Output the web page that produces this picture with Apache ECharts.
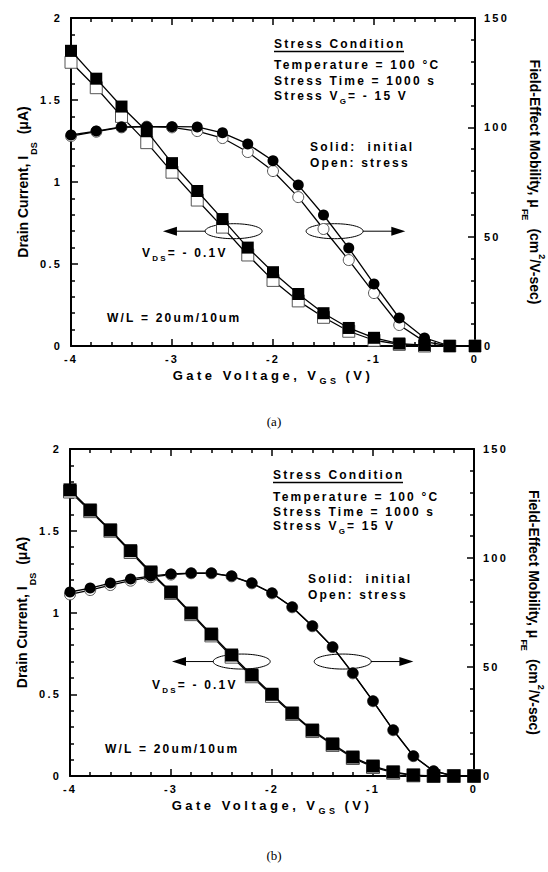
<!DOCTYPE html>
<html>
<head>
<meta charset="utf-8">
<script src="https://cdn.jsdelivr.net/npm/echarts/dist/echarts.min.js"></script>
<style>
  html, body { margin: 0; padding: 0; background: #fff; }
  #main { width: 548px; height: 872px; }
  /* wide-spaced lettering like the original figure */
  #main text[style*="ls2"] { letter-spacing: 2.2px; }
  #main text[style*="ls3"] { letter-spacing: 3.5px; }
</style>
</head>
<body>
<div id="main"></div>
<script>
// (a) stress VG = -15 V, points every 0.25 V
var vgsA = [-4, -3.75, -3.5, -3.25, -3, -2.75, -2.5, -2.25, -2, -1.75, -1.5, -1.25, -1, -0.75, -0.5, -0.25, 0];
var idInitA = [1.80, 1.63, 1.46, 1.31, 1.115, 0.945, 0.774, 0.60, 0.45, 0.317, 0.20, 0.11, 0.05, 0.015, 0.005, 0, 0];
var idStressA = [1.73, 1.575, 1.40, 1.24, 1.06, 0.89, 0.725, 0.555, 0.40, 0.275, 0.175, 0.09, 0.035, 0.01, 0, 0, 0];
var muInitA = [96.5, 98.3, 100.2, 100.3, 100.3, 100.2, 97.5, 92.4, 84.7, 73.6, 59.9, 44.8, 28.4, 12.8, 3.7, 0, 0];
var muStressA = [96, 98, 100, 100.3, 100, 98.3, 95.1, 88.7, 80, 68.1, 53.5, 39.3, 24.2, 9.6, 2, 0, 0];

// (b) stress VG = 15 V, points every 0.2 V
var vgsB = [-4, -3.8, -3.6, -3.4, -3.2, -3, -2.8, -2.6, -2.4, -2.2, -2, -1.8, -1.6, -1.4, -1.2, -1, -0.8, -0.6, -0.4, -0.2, 0];
var idInitB = [1.75, 1.627, 1.505, 1.378, 1.248, 1.125, 0.997, 0.868, 0.74, 0.618, 0.50, 0.385, 0.281, 0.196, 0.116, 0.061, 0.025, 0.005, 0, 0, 0];
var idStressB = [1.74, 1.62, 1.50, 1.37, 1.24, 1.12, 0.99, 0.86, 0.73, 0.61, 0.49, 0.38, 0.275, 0.19, 0.11, 0.055, 0.02, 0.004, 0, 0, 0];
var muInitB = [84.4, 86.2, 88.5, 90.4, 91.7, 92.7, 93.1, 93.1, 91.7, 88.5, 83.9, 77.5, 68.8, 59.2, 47.2, 34.4, 21.1, 9.2, 2.3, 0, 0];
var muStressB = [83.3, 85.3, 87.6, 89.6, 91.2, 92.4, 93.0, 93.0, 91.6, 88.4, 83.8, 77.4, 68.7, 59.1, 47.1, 34.3, 21.0, 9.1, 2.2, 0, 0];

var stressVgA = '= - 15 V';
var stressVgB = '= 15 V';

var chart = echarts.init(document.getElementById('main'), null, {renderer: 'svg'});

var LBL = {color: '#000', fontSize: 11, fontWeight: 'bold', fontFamily: 'Arial, ls2'};

// rich text with letter spacing: each token gets right padding = chars * spacing
function spacedRich(parts, size, fam, ls) {
	var str = '', r = {};
	parts.forEach(function (p, i) {
		var k = 't' + i;
		var sub = p[1] === 's';
		str += '{' + k + '|' + p[0] + '}';
		r[k] = {
			fontSize: sub ? size - 4 : size, fontWeight: 'bold', fontFamily: fam,
			fill: '#000', color: '#000', align: 'left',
			padding: [sub ? 10 : 0, p[0].length * ls, 0, p[2] || 0]
		};
	});
	return {text: str, rich: r};
}

var xTitle = spacedRich([['Gate Voltage, V', 'n'], ['GS', 's'], ['(V)', 'n', 6]], 13, 'Arial, ls3', 3.5);

// y titles: main tokens lifted so the small tokens read as sub/superscripts
function titleStyle(size, pad) {
	return {fontSize: size, fontWeight: 'bold', fontFamily: 'Liberation Sans', color: '#000', verticalAlign: 'bottom', padding: pad};
}
var leftRich = {
	a: titleStyle(14, [0, 0, 8, 0]),
	s: titleStyle(9, [10, 0, 0, 1]),
	b: titleStyle(14, [0, 0, 8, 8])
};
var rightRich = {
	a: titleStyle(14, [0, 0, 8, 0]),
	s: titleStyle(9, [10, 0, 0, 1]),
	b: titleStyle(14, [0, 0, 8, 8]),
	p: titleStyle(9, [0, 0, 17, 1])
};

function xAx(gi, top) {
	return {
		type: 'value', gridIndex: gi, position: top ? 'top' : 'bottom',
		min: -4, max: 0, interval: 1,
		axisLine: {show: true, onZero: false, lineStyle: {color: '#000', width: 2}},
		axisTick: {show: true, inside: true, length: 7, lineStyle: {color: '#000', width: 1.5}},
		minorTick: {show: true, splitNumber: 5, length: 4, lineStyle: {color: '#000', width: 1.5}},
		axisLabel: top ? {show: false} : Object.assign({margin: 7}, LBL),
		splitLine: {show: false},
		name: top ? '' : xTitle.text,
		nameLocation: 'middle', nameGap: 20, nameMoveOverlap: false,
		nameTextStyle: {rich: xTitle.rich}
	};
}
function yAx(gi, right) {
	return {
		type: 'value', gridIndex: gi, position: right ? 'right' : 'left',
		min: 0, max: right ? 150 : 2, interval: right ? 50 : 0.5,
		axisLine: {show: true, onZero: false, lineStyle: {color: '#000', width: 2}},
		axisTick: {show: true, inside: true, length: 7, lineStyle: {color: '#000', width: 1.5}},
		minorTick: {show: true, splitNumber: 5, length: 4, lineStyle: {color: '#000', width: 1.5}},
		axisLabel: Object.assign({margin: 9}, LBL),
		splitLine: {show: false},
		name: right ? '{a|Field-Effect Mobility, μ}{s|FE}{b|(cm}{p|2}{a|/V-sec)}' : '{a|Drain Current, I}{s|DS}{b|(μA)}',
		nameLocation: 'middle', nameRotate: right ? -90 : 90,
		nameGap: right ? 45 : 33, nameMoveOverlap: false,
		nameTextStyle: {rich: right ? rightRich : leftRich}
	};
}

function pairs(xs, ys) {
	return xs.map(function (x, i) { return [x, ys[i]]; });
}
function ser(xi, yi, data, sym, size, open) {
	return {
		type: 'line', xAxisIndex: xi, yAxisIndex: yi, data: data,
		symbol: sym, symbolSize: size, showAllSymbol: true, clip: false, silent: true,
		lineStyle: {color: '#000', width: 1.3},
		itemStyle: open ? {color: '#fff', borderColor: '#555', borderWidth: 1} : {color: '#000', borderColor: '#000', borderWidth: 0},
		emphasis: {disabled: true},
		z: open ? 2 : 3
	};
}

var option = {
	animation: false,
	backgroundColor: '#fff',
	grid: [
		{left: 71, top: 18, width: 404, height: 328, containLabel: false, outerBoundsMode: 'none'},
		{left: 70, top: 449, width: 404, height: 327, containLabel: false, outerBoundsMode: 'none'}
	],
	xAxis: [xAx(0, false), xAx(0, true), xAx(1, false), xAx(1, true)],
	yAxis: [yAx(0, false), yAx(0, true), yAx(1, false), yAx(1, true)],
	series: [
		ser(0, 0, pairs(vgsA, idStressA), 'rect', 12, true),
		ser(0, 1, pairs(vgsA, muStressA), 'circle', 11, true),
		ser(0, 0, pairs(vgsA, idInitA), 'rect', 12, false),
		ser(0, 1, pairs(vgsA, muInitA), 'circle', 11, false),
		ser(2, 2, pairs(vgsB, idStressB), 'rect', 13, true),
		ser(2, 3, pairs(vgsB, muStressB), 'circle', 11, true),
		ser(2, 2, pairs(vgsB, idInitB), 'rect', 13, false),
		ser(2, 3, pairs(vgsB, muInitB), 'circle', 11, false)
	]
};
chart.setOption(option);

// annotations
var g = [];
function txt(x, y, s, rich) {
	var st = {
		text: s, fill: '#000', align: 'left', verticalAlign: 'middle',
		textAlign: 'left', textVerticalAlign: 'middle',
		font: 'bold 12px Arial, ls2'
	};
	if (rich) st.rich = rich;
	g.push({type: 'text', x: x, y: y, silent: true, style: st});
}
function rtxt(x, y, parts) {
	var r = spacedRich(parts, 12, 'Arial, ls2', 2.2);
	txt(x, y, r.text, r.rich);
}
function uline(x1, x2, y) {
	g.push({type: 'line', silent: true, shape: {x1: x1, y1: y, x2: x2, y2: y}, style: {stroke: '#000', lineWidth: 1.3}});
}
function ellipseAt(gi, x, y) {
	var p = chart.convertToPixel({gridIndex: gi}, [x, y]);
	g.push({type: 'ellipse', silent: true, shape: {cx: p[0], cy: p[1], rx: 28.5, ry: 7.5}, style: {fill: 'none', stroke: '#000', lineWidth: 1}});
}
function arrow(gi, x1, x2, y) {
	var a = chart.convertToPixel({gridIndex: gi}, [x1, y]);
	var b = chart.convertToPixel({gridIndex: gi}, [x2, y]);
	var d = b[0] > a[0] ? 1 : -1;
	g.push({type: 'line', silent: true, shape: {x1: a[0], y1: a[1], x2: b[0] - d * 10, y2: b[1]}, style: {stroke: '#000', lineWidth: 1}});
	g.push({type: 'polygon', silent: true, shape: {points: [[b[0], b[1]], [b[0] - d * 14, b[1] - 4.5], [b[0] - d * 14, b[1] + 4.5]]}, style: {fill: '#000'}});
}

// top figure
txt(274, 44, 'Stress Condition');
uline(274, 404, 51.5);
txt(274, 65, 'Temperature = 100 °C');
txt(274, 81, 'Stress Time = 1000 s');
rtxt(274, 96, [['Stress V', 'n'], ['G', 's'], [stressVgA, 'n']]);
txt(310, 147, 'Solid:  initial');
txt(310, 163, 'Open: stress');
rtxt(142, 253, [['V', 'n'], ['DS', 's'], ['= - 0.1V', 'n']]);
txt(107, 318, 'W/L = 20um/10um');
ellipseAt(0, -2.39, 0.70);
ellipseAt(0, -1.39, 0.70);
arrow(0, -2.67, -3.09, 0.70);
arrow(0, -1.11, -0.69, 0.70);

// bottom figure
txt(273, 475, 'Stress Condition');
uline(273, 403, 482.5);
txt(273, 497, 'Temperature = 100 °C');
txt(273, 512, 'Stress Time = 1000 s');
rtxt(273, 526, [['Stress V', 'n'], ['G', 's'], [stressVgB, 'n']]);
txt(308, 579, 'Solid:  initial');
txt(308, 595, 'Open: stress');
rtxt(152, 685, [['V', 'n'], ['DS', 's'], ['= - 0.1V', 'n']]);
txt(105, 749, 'W/L = 20um/10um');
ellipseAt(1, -2.30, 0.70);
ellipseAt(1, -1.30, 0.70);
arrow(1, -2.58, -2.99, 0.70);
arrow(1, -1.02, -0.60, 0.70);

// captions
g.push({type: 'text', x: 274, y: 421, silent: true, style: {text: '(a)', font: '13px "Liberation Serif"', fill: '#000', align: 'center', verticalAlign: 'middle', textAlign: 'center', textVerticalAlign: 'middle'}});
g.push({type: 'text', x: 274, y: 855, silent: true, style: {text: '(b)', font: '13px "Liberation Serif"', fill: '#000', align: 'center', verticalAlign: 'middle', textAlign: 'center', textVerticalAlign: 'middle'}});

chart.setOption({graphic: g});
</script>
</body>
</html>
